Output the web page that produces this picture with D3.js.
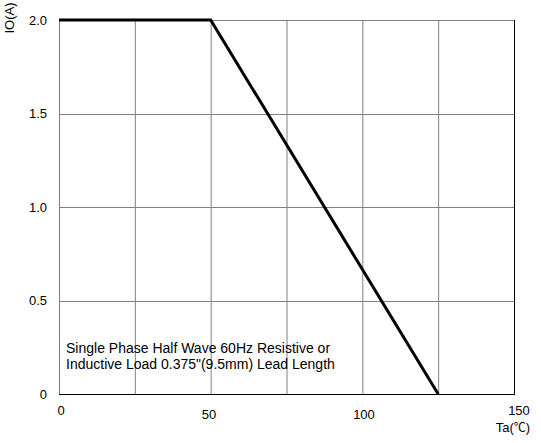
<!DOCTYPE html>
<html><head><meta charset="utf-8">
<script src="https://cdn.jsdelivr.net/npm/d3@7/dist/d3.min.js"></script>
<style>body{margin:0;background:#fff}svg{display:block}text{font-family:"Liberation Sans",Arial,sans-serif;fill:#000}</style>
</head><body><svg id="c" width="541" height="443"></svg>
<script>
const tempC = [0, 50, 125];
const currentA = [2.0, 2.0, 0];
const xTicks = [0, 50, 100, 150];
const yTicks = [0, 0.5, 1.0, 1.5, 2.0];
const yTickLabels = ["0", "0.5", "1.0", "1.5", "2.0"];
const xGrid = [25, 50, 75, 100, 125];
const noteLines = ["Single Phase Half Wave 60Hz Resistive or", "Inductive Load 0.375\"(9.5mm) Lead Length"];

const svg = d3.select("#c");
const L = 59, R = 514, T = 20, B = 394;
const x = d3.scaleLinear().domain([0, 150]).range([L, R]);
const y = d3.scaleLinear().domain([0, 2]).range([B, T]);

// grid
svg.append("g").selectAll("line").data(xGrid).join("line")
  .attr("x1", d => x(d) + 0.5).attr("x2", d => x(d) + 0.5)
  .attr("y1", T).attr("y2", B).attr("stroke", "#808080").attr("stroke-width", 1);
svg.append("g").selectAll("line").data(yTicks.filter(d => d > 0)).join("line")
  .attr("x1", L).attr("x2", R)
  .attr("y1", d => Math.round(y(d)) + 0.5).attr("y2", d => Math.round(y(d)) + 0.5)
  .attr("stroke", "#808080").attr("stroke-width", 1);
// frame
svg.append("line").attr("x1", L + 0.5).attr("x2", L + 0.5).attr("y1", T).attr("y2", B).attr("stroke", "#808080");
svg.append("line").attr("x1", R + 0.5).attr("x2", R + 0.5).attr("y1", T).attr("y2", B + 1).attr("stroke", "#000");
svg.append("line").attr("x1", L).attr("x2", R + 1).attr("y1", B + 0.5).attr("y2", B + 0.5).attr("stroke", "#000");

const FS = 13;
// y tick labels
svg.append("g").selectAll("text").data(yTicks).join("text")
  .attr("x", 47).attr("y", d => y(d) + 4.5)
  .attr("text-anchor", "end").attr("font-size", FS)
  .text((d, i) => yTickLabels[i]);

// x tick labels
const xLabY = {0: 415, 50: 418.5, 100: 418.5, 150: 415};
const xLabX = {0: 61, 50: 209, 100: 364, 150: 519};
svg.append("g").selectAll("text").data(xTicks).join("text")
  .attr("x", d => xLabX[d])
  .attr("y", d => xLabY[d])
  .attr("text-anchor", "middle").attr("font-size", FS)
  .text(d => d);

// axis titles
svg.append("text").attr("transform", "translate(14,18) rotate(-90)")
  .attr("text-anchor", "middle").attr("font-size", FS).text("IO(A)");
const ta = svg.append("text").attr("x", 513).attr("y", 432).attr("text-anchor", "middle")
  .attr("font-size", FS);
ta.append("tspan").text("Ta(");
ta.append("tspan").style("font-family", "'Noto Sans CJK SC'").attr("font-size", 12).text("℃");
ta.append("tspan").text(")");

// curve
const line = d3.line().x(d => x(d[0])).y(d => y(d[1]));
svg.append("path").datum(tempC.map((t, i) => [t, currentA[i]]))
  .attr("d", line).attr("fill", "none").attr("stroke", "#000").attr("stroke-width", 3);

// note
svg.append("g").selectAll("text").data(noteLines).join("text")
  .attr("x", 66).attr("y", (d, i) => 353 + i * 15.5)
  .attr("font-size", 14).text(d => d);
</script></body></html>
